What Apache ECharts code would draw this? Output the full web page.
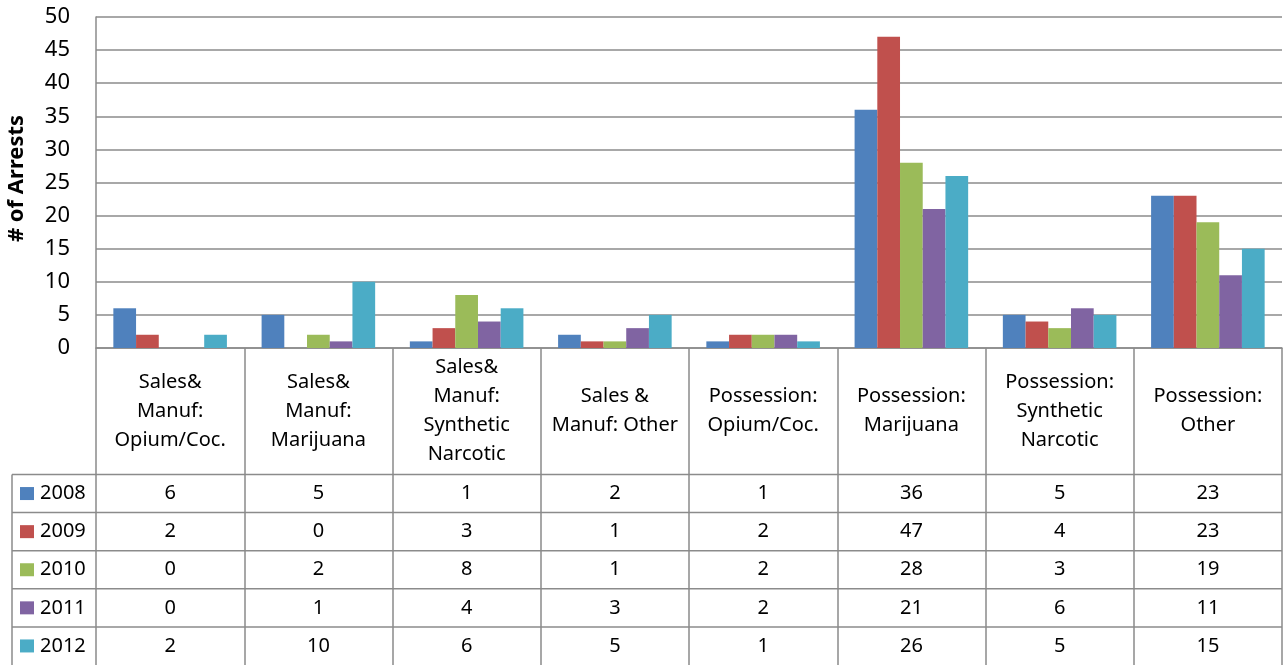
<!DOCTYPE html>
<html>
<head>
<meta charset="utf-8">
<script src="https://cdn.jsdelivr.net/npm/echarts@6/dist/echarts.min.js"></script>
<style>
  html, body { margin: 0; padding: 0; background: #fff; }
  #chart { width: 1285px; height: 665px; }
</style>
</head>
<body>
<div id="chart"></div>
<script>
// Drug arrests by offence type, 2008-2012
const categories = [
  'Sales&\nManuf:\nOpium/Coc.',
  'Sales&\nManuf:\nMarijuana',
  'Sales&\nManuf:\nSynthetic\nNarcotic',
  'Sales &\nManuf: Other',
  'Possession:\nOpium/Coc.',
  'Possession:\nMarijuana',
  'Possession:\nSynthetic\nNarcotic',
  'Possession:\nOther'
];
const years = ['2008', '2009', '2010', '2011', '2012'];
const arrests2008 = [6, 5, 1, 2, 1, 36, 5, 23];
const arrests2009 = [2, 0, 3, 1, 2, 47, 4, 23];
const arrests2010 = [0, 2, 8, 1, 2, 28, 3, 19];
const arrests2011 = [0, 1, 4, 3, 2, 21, 6, 11];
const arrests2012 = [2, 10, 6, 5, 1, 26, 5, 15];
const seriesValues = [arrests2008, arrests2009, arrests2010, arrests2011, arrests2012];
const yMin = 0, yMax = 50, yStep = 5;

const colors = ['#4F81BD', '#C0504D', '#9BBB59', '#8064A2', '#4BACC6'];
const LINE = '#8B8B8B';
const FONT = '"Noto Sans", "Open Sans", sans-serif';

const W = 1285, H = 665;
const GRID = { left: 96, right: 3, top: 17, bottom: 317, containLabel: false, outerBoundsMode: 'none' };
const axisY = H - GRID.bottom;
const tableTop = 474.5;
const tableLeft = 12;

const chart = echarts.init(document.getElementById('chart'), null, { renderer: 'canvas' });

chart.setOption({
  animation: false,
  color: colors,
  grid: GRID,
  xAxis: {
    type: 'category',
    data: categories,
    axisLine: { show: true, lineStyle: { color: LINE, width: 1.5 } },
    // ticks run down through the label row and the data table as column dividers
    axisTick: { show: true, length: GRID.bottom, lineStyle: { color: LINE, width: 1.5 } },
    axisLabel: {
      interval: 0,
      margin: (tableTop - axisY) / 2,
      verticalAlign: 'middle',
      lineHeight: 29,
      fontSize: 20,
      fontFamily: FONT,
      color: '#000'
    },
    splitLine: { show: false }
  },
  yAxis: {
    type: 'value',
    min: yMin,
    max: yMax,
    interval: yStep,
    name: '# of Arrests',
    nameLocation: 'middle',
    nameGap: 68,
    nameTextStyle: { fontSize: 22, fontWeight: 'bold', fontFamily: FONT, color: '#000', padding: [0, 0, 0, 8] },
    axisLine: { show: true, lineStyle: { color: LINE, width: 1.5 } },
    axisTick: { show: false },
    axisLabel: { margin: 26, fontSize: 22, fontFamily: FONT, color: '#000' },
    splitLine: { show: true, lineStyle: { color: LINE, width: 1.5 } }
  },
  series: years.map((y, i) => ({
    name: y,
    type: 'bar',
    data: seriesValues[i],
    barGap: '0%',
    barCategoryGap: '23.4%',
    itemStyle: { color: colors[i] }
  }))
});

// Data table under the category labels
function drawTable() {
  const rowH = (H - tableTop) / years.length;
  const right = W - GRID.right;
  const els = [];
  // horizontal row borders
  for (let r = 0; r < years.length; r++) {
    const y = tableTop + r * rowH;
    els.push({ type: 'line', shape: { x1: tableLeft, y1: y, x2: right, y2: y },
      style: { stroke: LINE, lineWidth: 1.5 }, silent: true });
  }
  // left border of the legend column
  els.push({ type: 'line', shape: { x1: tableLeft, y1: tableTop, x2: tableLeft, y2: H },
    style: { stroke: LINE, lineWidth: 1.5 }, silent: true });

  years.forEach((yr, r) => {
    const cy = tableTop + (r + 0.5) * rowH;
    els.push({ type: 'rect', shape: { x: 20, y: cy - 6.5, width: 14, height: 13 },
      style: { fill: colors[r] }, silent: true });
    els.push({ type: 'text', style: { text: yr, x: 40, y: cy, align: 'left', verticalAlign: 'middle',
      fontSize: 20, fontFamily: FONT, fill: '#000' }, silent: true });
    categories.forEach((cat, c) => {
      const cx = chart.convertToPixel({ xAxisIndex: 0 }, c);
      els.push({ type: 'text', style: { text: String(seriesValues[r][c]), x: cx, y: cy,
        align: 'center', verticalAlign: 'middle', fontSize: 20, fontFamily: FONT, fill: '#000' }, silent: true });
    });
  });
  chart.setOption({ graphic: { elements: els } });
}
drawTable();
</script>
</body>
</html>
